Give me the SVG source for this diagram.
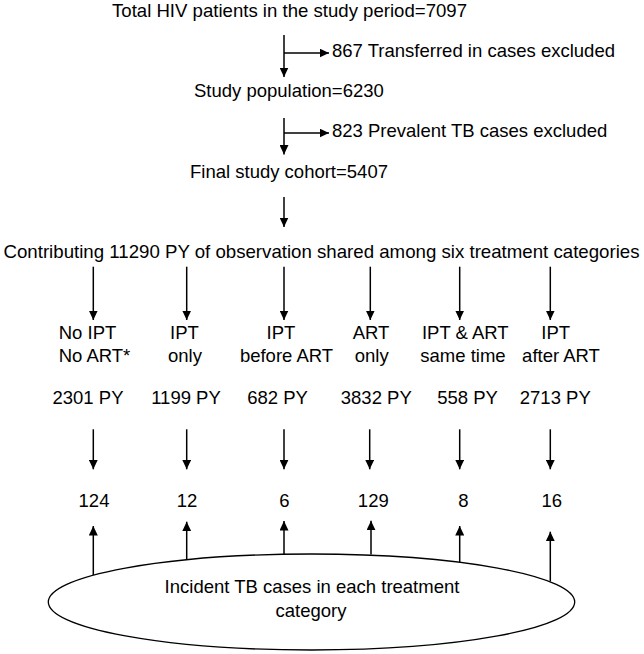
<svg xmlns="http://www.w3.org/2000/svg" width="644" height="654" viewBox="0 0 644 654">
  <style>
    text { font-family: "Liberation Sans", Arial, sans-serif; font-size: 18.5px; fill: #000; }
    .m { text-anchor: middle; }
    .c { stroke: #000; stroke-width: 1.5; fill: none; marker-end: url(#ah); }
    .e { fill: #fff; stroke: #000; stroke-width: 1.3; }
  </style>
  <defs>
    <marker id="ah" markerUnits="userSpaceOnUse" markerWidth="10" markerHeight="9" refX="9.5" refY="4.5" orient="auto">
      <path d="M0,0 L9.5,4.5 L0,9 Z" fill="#000"/>
    </marker>
  </defs>
  <rect width="644" height="654" fill="#fff"/>

  <g id="total"><text x="112" y="17" textLength="355" lengthAdjust="spacingAndGlyphs">Total HIV patients in the study period=7097</text></g>
  <g id="transferred"><text x="332" y="57" textLength="283" lengthAdjust="spacingAndGlyphs">867 Transferred in cases excluded</text></g>
  <g id="population"><text x="194" y="97">Study population=6230</text></g>
  <g id="prevalent"><text x="332" y="137">823 Prevalent TB cases excluded</text></g>
  <g id="cohort"><text x="190" y="178">Final study cohort=5407</text></g>
  <g id="contributing"><text x="3.5" y="258" textLength="636" lengthAdjust="spacingAndGlyphs">Contributing 11290 PY of observation shared among six treatment categories</text></g>

  <g id="cat1"><text class="m" x="87.5" y="339">No IPT</text><text class="m" x="94.5" y="362">No ART*</text></g>
  <g id="cat2"><text class="m" x="184.5" y="339">IPT</text><text class="m" x="185" y="362">only</text></g>
  <g id="cat3"><text class="m" x="281" y="339">IPT</text><text class="m" x="286.5" y="362">before ART</text></g>
  <g id="cat4"><text class="m" x="371" y="339">ART</text><text class="m" x="371.7" y="362">only</text></g>
  <g id="cat5"><text class="m" x="465.3" y="339">IPT &amp; ART</text><text class="m" x="463" y="362">same time</text></g>
  <g id="cat6"><text class="m" x="555.7" y="339">IPT</text><text class="m" x="561" y="362">after ART</text></g>

  <g id="py1"><text class="m" x="88" y="404">2301 PY</text></g>
  <g id="py2"><text class="m" x="186" y="404">1199 PY</text></g>
  <g id="py3"><text class="m" x="277.5" y="404">682 PY</text></g>
  <g id="py4"><text class="m" x="376.3" y="404">3832 PY</text></g>
  <g id="py5"><text class="m" x="467.5" y="404">558 PY</text></g>
  <g id="py6"><text class="m" x="555.3" y="404">2713 PY</text></g>

  <g id="n1"><text class="m" x="94" y="507">124</text></g>
  <g id="n2"><text class="m" x="187" y="507">12</text></g>
  <g id="n3"><text class="m" x="284.3" y="507">6</text></g>
  <g id="n4"><text class="m" x="373.3" y="507">129</text></g>
  <g id="n5"><text class="m" x="463.3" y="507">8</text></g>
  <g id="n6"><text class="m" x="551.7" y="507">16</text></g>

  <g id="incident">
    <ellipse class="e" cx="311.5" cy="602" rx="263.2" ry="48"/>
    <text class="m" x="312" y="593">Incident TB cases in each treatment</text>
    <text class="m" x="311" y="617">category</text>
  </g>

  <g id="connectors">
    <line class="c" x1="284" y1="35" x2="284" y2="77"/>
    <line class="c" x1="284" y1="53" x2="329" y2="53"/>
    <line class="c" x1="284" y1="118" x2="284" y2="154.5"/>
    <line class="c" x1="284" y1="133" x2="329" y2="133"/>
    <line class="c" x1="284" y1="197" x2="284" y2="227"/>

    <line class="c" x1="93.3" y1="266.7" x2="93.3" y2="320"/>
    <line class="c" x1="186.7" y1="266.7" x2="186.7" y2="320"/>
    <line class="c" x1="284" y1="266.7" x2="284" y2="320"/>
    <line class="c" x1="370.3" y1="266.7" x2="370.3" y2="320"/>
    <line class="c" x1="459.7" y1="266.7" x2="459.7" y2="320"/>
    <line class="c" x1="550.3" y1="266.7" x2="550.3" y2="320"/>

    <line class="c" x1="93.3" y1="429.3" x2="93.3" y2="469.3"/>
    <line class="c" x1="186.7" y1="429.3" x2="186.7" y2="469.3"/>
    <line class="c" x1="284" y1="429.3" x2="284" y2="469.3"/>
    <line class="c" x1="369.7" y1="429.3" x2="369.7" y2="469.3"/>
    <line class="c" x1="459.7" y1="429.3" x2="459.7" y2="469.3"/>
    <line class="c" x1="550.3" y1="429.3" x2="550.3" y2="469.3"/>

    <line class="c" x1="93.3" y1="575" x2="93.3" y2="526"/>
    <line class="c" x1="186.7" y1="560" x2="186.7" y2="521.7"/>
    <line class="c" x1="284" y1="554" x2="284" y2="521"/>
    <line class="c" x1="371" y1="554.5" x2="371" y2="520.7"/>
    <line class="c" x1="459.7" y1="562.5" x2="459.7" y2="526"/>
    <line class="c" x1="550.3" y1="581.5" x2="550.3" y2="531.7"/>
  </g>
</svg>
